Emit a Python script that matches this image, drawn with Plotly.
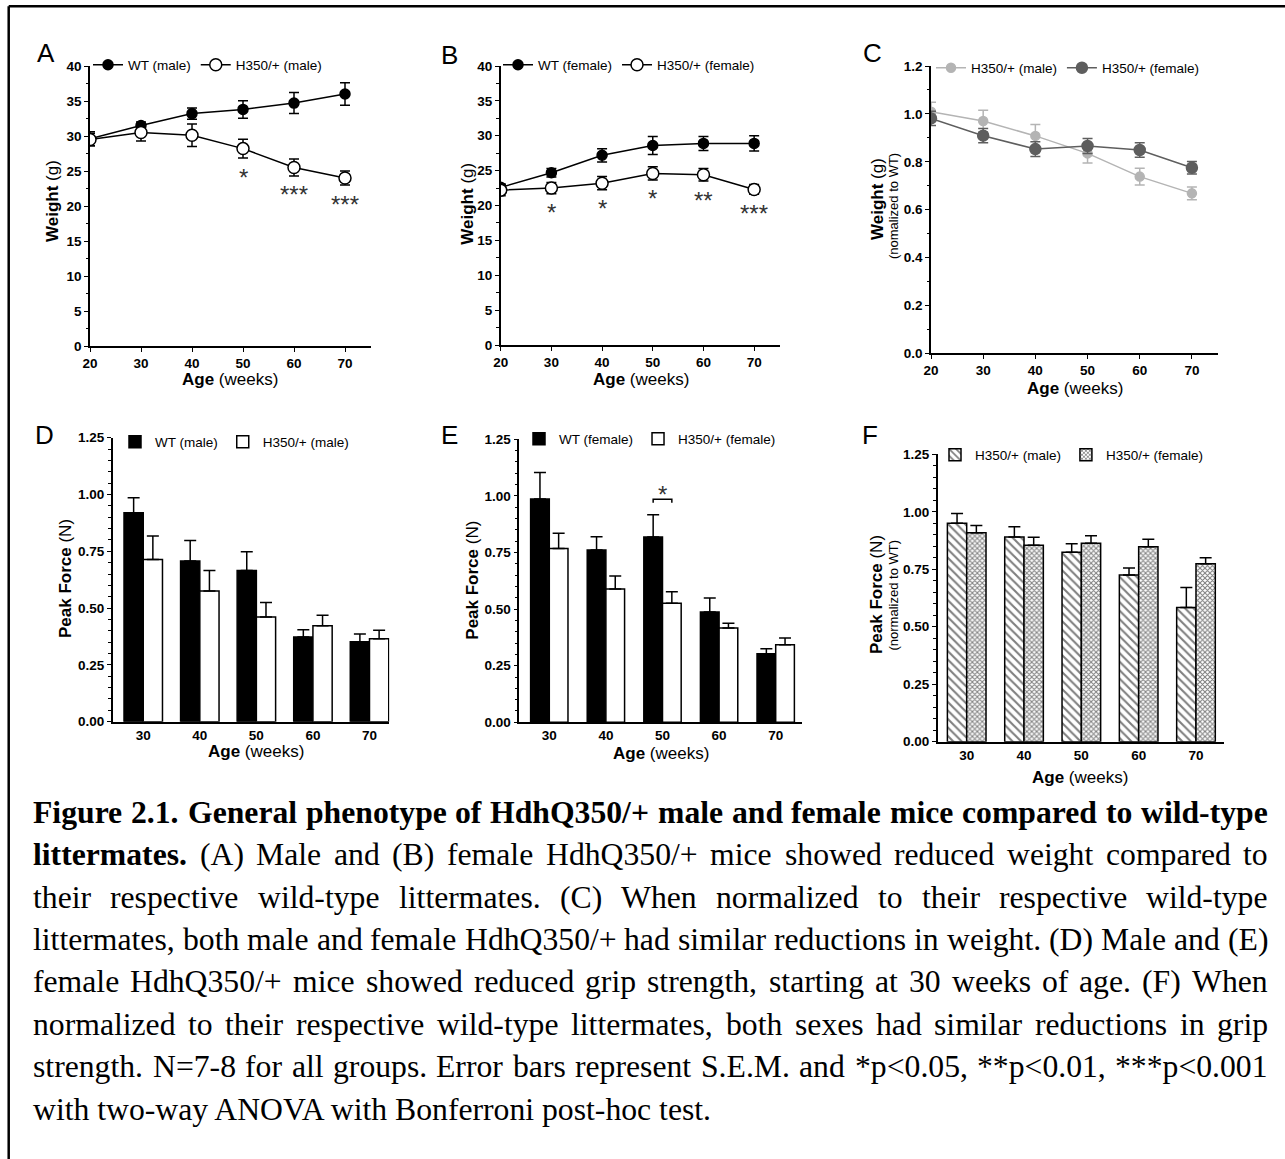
import plotly.graph_objects as go

W, H = 1285, 1159
SANS = "Liberation Sans, Arial, sans-serif"
SERIF = "Liberation Serif, Times New Roman, serif"

# ---------------- data ----------------
ages = [20, 30, 40, 50, 60, 70]
A_wt = [29.6, 31.5, 33.2, 33.8, 34.7, 36.0]
A_wt_err = [1.0, 0.5, 0.8, 1.25, 1.5, 1.6]
A_het = [29.5, 30.5, 30.1, 28.2, 25.5, 24.0]
A_het_err = [0.9, 1.2, 1.6, 1.35, 1.2, 1.0]
A_sig = ["", "", "", "*", "***", "***"]

B_wt = [22.6, 24.7, 27.2, 28.6, 28.9, 28.9]
B_wt_err = [0.5, 0.6, 0.95, 1.3, 1.0, 1.1]
B_het = [22.2, 22.5, 23.2, 24.6, 24.4, 22.3]
B_het_err = [0.8, 0.8, 0.95, 0.95, 0.9, 0.7]
B_sig = ["", "*", "*", "*", "**", "***"]

C_male = [1.009, 0.970, 0.908, 0.835, 0.738, 0.668]
C_male_err = [0.04, 0.045, 0.048, 0.04, 0.035, 0.027]
C_female = [0.981, 0.909, 0.853, 0.866, 0.849, 0.775]
C_female_err = [0.03, 0.03, 0.031, 0.031, 0.03, 0.026]

bar_ages = [30, 40, 50, 60, 70]
D_wt = [0.920, 0.707, 0.666, 0.373, 0.352]
D_wt_err = [0.066, 0.090, 0.082, 0.032, 0.034]
D_het = [0.714, 0.575, 0.461, 0.422, 0.365]
D_het_err = [0.103, 0.090, 0.064, 0.046, 0.038]

E_wt = [0.986, 0.761, 0.818, 0.487, 0.303]
E_wt_err = [0.117, 0.059, 0.099, 0.062, 0.022]
E_het = [0.768, 0.589, 0.526, 0.417, 0.343]
E_het_err = [0.067, 0.057, 0.051, 0.020, 0.029]
E_sig = ["", "", "*", "", ""]

F_male = [0.950, 0.890, 0.824, 0.725, 0.584]
F_male_err = [0.043, 0.045, 0.037, 0.030, 0.087]
F_female = [0.909, 0.854, 0.863, 0.848, 0.774]
F_female_err = [0.031, 0.035, 0.033, 0.032, 0.026]

caption_lines = [
    [("Figure 2.1. General phenotype of HdhQ350/+ male and female mice compared to wild-type", True)],
    [("littermates.", True), ("(A) Male and (B) female HdhQ350/+ mice showed reduced weight compared to", False)],
    [("their respective wild-type littermates. (C) When normalized to their respective wild-type", False)],
    [("littermates, both male and female HdhQ350/+ had similar reductions in weight. (D) Male and (E)", False)],
    [("female HdhQ350/+ mice showed reduced grip strength, starting at 30 weeks of age. (F) When", False)],
    [("normalized to their respective wild-type littermates, both sexes had similar reductions in grip", False)],
    [("strength. N=7-8 for all groups. Error bars represent S.E.M. and *p<0.05, **p<0.01, ***p<0.001", False)],
    [("with two-way ANOVA with Bonferroni post-hoc test.", False)],
]

# ---------------- helpers ----------------
def px(x):
    return x / W


def py(y):
    return 1 - y / H


fig = go.Figure()

AX_LW = 1.6
TICKFONT = dict(family=SANS, size=13.5, color="black", weight="bold")


def xaxis_cfg(dom, rng, tickvals, ticks="outside", anchor="y"):
    return dict(domain=[px(dom[0]), px(dom[1])], range=rng, anchor=anchor,
                showline=True, linecolor="black", linewidth=AX_LW,
                ticks=ticks, ticklen=4, tickwidth=1.4, tickcolor="black",
                tickvals=tickvals, tickfont=TICKFONT, showgrid=False,
                zeroline=False, fixedrange=True)


def yaxis_cfg(dom, rng, dtick, minor, fmt, anchor="x"):
    return dict(domain=[py(dom[1]), py(dom[0])], range=rng, anchor=anchor,
                showline=True, linecolor="black", linewidth=AX_LW,
                ticks="outside", ticklen=4, tickwidth=1.4, tickcolor="black",
                dtick=dtick, tick0=0, tickformat=fmt, tickfont=TICKFONT,
                showgrid=False, zeroline=False, fixedrange=True,
                minor=dict(ticks="outside", ticklen=2.5, tickwidth=1.1,
                           tickcolor="black", dtick=minor, tick0=0, showgrid=False))


layout_axes = {
    "xaxis": xaxis_cfg((90, 370.5), [20, 75], ages, anchor="y"),
    "yaxis": yaxis_cfg((66, 346), [0, 40], 5, 2.5, "d", anchor="x"),
    "xaxis2": xaxis_cfg((500.7, 779.5), [20, 75], ages, anchor="y2"),
    "yaxis2": yaxis_cfg((66, 345), [0, 40], 5, 2.5, "d", anchor="x2"),
    "xaxis3": xaxis_cfg((931, 1218), [20, 75], ages, anchor="y3"),
    "yaxis3": yaxis_cfg((66, 353.3), [0, 1.2], 0.2, 0.1, ".1f", anchor="x3"),
    "xaxis4": xaxis_cfg((112.7, 389.3), [24.6, 73.5], bar_ages, ticks="", anchor="y4"),
    "yaxis4": yaxis_cfg((437.7, 721.7), [0, 1.25], 0.25, 0.05, ".2f", anchor="x4"),
    "xaxis5": xaxis_cfg((519.3, 802.3), [24.7, 74.7], bar_ages, ticks="", anchor="y5"),
    "yaxis5": yaxis_cfg((439.3, 722.3), [0, 1.25], 0.25, 0.05, ".2f", anchor="x5"),
    "xaxis6": xaxis_cfg((937.7, 1224.3), [24.94, 74.94], bar_ages, ticks="", anchor="y6"),
    "yaxis6": yaxis_cfg((454.3, 741.7), [0, 1.25], 0.25, 0.05, ".2f", anchor="x6"),
}


def line_trace(x, y, err, name, xa, ya, legend, color, fill, size):
    return go.Scatter(
        x=x, y=y, name=name, mode="lines+markers", xaxis=xa, yaxis=ya, legend=legend,
        line=dict(color=color, width=1.5),
        marker=dict(color=fill, size=size, line=dict(color=color, width=1.5)),
        error_y=dict(type="data", array=err, color=color, thickness=1.5, width=5),
        hoverinfo="skip")


def bar_trace(x, y, err, name, xa, ya, legend, width, offset, color, pattern=None):
    marker = dict(color=color, line=dict(color="black", width=1.5))
    if pattern is not None:
        marker["pattern"] = pattern
    return go.Bar(
        x=x, y=y, name=name, xaxis=xa, yaxis=ya, legend=legend,
        width=width, offset=offset, marker=marker,
        error_y=dict(type="data", symmetric=False, array=err,
                     arrayminus=[0] * len(err), color="black", thickness=1.5, width=6),
        hoverinfo="skip")


# Panel A
fig.add_trace(line_trace(ages, A_wt, A_wt_err, "WT (male)", "x", "y", "legend", "black", "black", 10))
fig.add_trace(line_trace(ages, A_het, A_het_err, "H350/+ (male)", "x", "y", "legend", "black", "white", 12))
# Panel B
fig.add_trace(line_trace(ages, B_wt, B_wt_err, "WT (female)", "x2", "y2", "legend2", "black", "black", 10))
fig.add_trace(line_trace(ages, B_het, B_het_err, "H350/+ (female)", "x2", "y2", "legend2", "black", "white", 12))
# Panel C
fig.add_trace(line_trace(ages, C_male, C_male_err, "H350/+ (male)", "x3", "y3", "legend3", "#b4b4b4", "#b4b4b4", 9))
fig.add_trace(line_trace(ages, C_female, C_female_err, "H350/+ (female)", "x3", "y3", "legend3", "#5e5e5e", "#5e5e5e", 11))
# Panel D
fig.add_trace(bar_trace(bar_ages, D_wt, D_wt_err, "WT (male)", "x4", "y4", "legend4", 3.4, -3.4, "black"))
fig.add_trace(bar_trace(bar_ages, D_het, D_het_err, "H350/+ (male)", "x4", "y4", "legend4", 3.4, 0, "white"))
# Panel E
fig.add_trace(bar_trace(bar_ages, E_wt, E_wt_err, "WT (female)", "x5", "y5", "legend5", 3.3, -3.3, "black"))
fig.add_trace(bar_trace(bar_ages, E_het, E_het_err, "H350/+ (female)", "x5", "y5", "legend5", 3.3, 0, "white"))
# Panel F
fig.add_trace(bar_trace(bar_ages, F_male, F_male_err, "H350/+ (male)", "x6", "y6", "legend6", 3.37, -3.37, "white",
                        pattern=dict(shape="\\", fgcolor="black", bgcolor="white", size=6, solidity=0.35)))
fig.add_trace(bar_trace(bar_ages, F_female, F_female_err, "H350/+ (female)", "x6", "y6", "legend6", 3.37, 0, "white",
                        pattern=dict(shape="x", fgcolor="black", bgcolor="white", size=3.5, solidity=0.5)))


def legend_cfg(x, y):
    return dict(x=px(x), y=py(y), xanchor="left", yanchor="middle", orientation="h",
                font=dict(family=SANS, size=13.5, color="black"), bgcolor="rgba(0,0,0,0)",
                borderwidth=0, itemwidth=30, tracegroupgap=0, traceorder="normal",
                itemclick=False, itemdoubleclick=False)


legends = {
    "legend": legend_cfg(88, 65),
    "legend2": legend_cfg(498, 65),
    "legend3": legend_cfg(931, 68),
    "legend4": legend_cfg(115, 442),
    "legend5": legend_cfg(519, 439),
    "legend6": legend_cfg(935, 455),
}

annotations = []


def ann(x, y, text, size, angle=0, family=SANS, color="black", xanchor="center"):
    annotations.append(dict(x=px(x), y=py(y), xref="paper", yref="paper", text=text,
                            showarrow=False, textangle=angle, xanchor=xanchor, yanchor="middle",
                            font=dict(family=family, size=size, color=color), borderpad=0))


# panel letters
for letter, (lx, ly) in {"A": (46, 53), "B": (450, 55), "C": (872, 53),
                         "D": (44, 435), "E": (450, 435), "F": (870, 435)}.items():
    ann(lx, ly, letter, 26)

# axis titles
age_title = "<b>Age</b> (weeks)"
for (x, y) in [(230, 379), (640.5, 380), (1075, 388), (256, 751), (661, 753), (1080, 777)]:
    ann(x, y, age_title, 17)
ann(53, 201, "<b>Weight</b> (g)", 17, angle=-90)
ann(466.7, 204, "<b>Weight</b> (g)", 17, angle=-90)
ann(877, 199, "<b>Weight</b> (g)", 17, angle=-90)
ann(894, 206, "(nomalized to WT)", 13, angle=-90)
ann(65, 579, "<b>Peak Force</b> (N)", 17, angle=-90)
ann(471.7, 580, "<b>Peak Force</b> (N)", 17, angle=-90)
ann(877, 595, "<b>Peak Force</b> (N)", 17, angle=-90)
ann(893.5, 595, "(normalized to WT)", 13, angle=-90)

STAR = dict(family=SANS, size=24, color="#333333")
# significance stars (data coordinates)
for xs, ys, es, sig, xr, yr in [(ages, A_het, A_het_err, A_sig, "x", "y"),
                                (ages, B_het, B_het_err, B_sig, "x2", "y2")]:
    for xv, yv, ev, s in zip(xs, ys, es, sig):
        if s:
            annotations.append(dict(x=xv, y=yv - ev - 2.0, xref=xr, yref=yr, text=s,
                                    showarrow=False, yanchor="middle", yshift=-5, font=STAR))

shapes = []
for xv, wv, ev, s in zip(bar_ages, E_wt, E_wt_err, E_sig):
    if s:
        yb = wv + ev + 0.068
        x0, x1 = xv - 3.3 / 2, xv + 3.3 / 2
        shapes.append(dict(type="path", xref="x5", yref="y5",
                           path=f"M {x0},{yb - 0.015} L {x0},{yb} L {x1},{yb} L {x1},{yb - 0.015}",
                           line=dict(color="black", width=1.5)))
        annotations.append(dict(x=xv, y=yb + 0.045, xref="x5", yref="y5", text=s, showarrow=False,
                                yanchor="middle", yshift=-5, font=STAR))

# figure border (top and left)
shapes.append(dict(type="line", xref="paper", yref="paper", x0=px(8.7), x1=1.0, y0=py(6.2), y1=py(6.2),
                   line=dict(color="black", width=2.5)))
shapes.append(dict(type="line", xref="paper", yref="paper", x0=px(8.7), x1=px(8.7), y0=py(6.2), y1=0,
                   line=dict(color="black", width=2.5)))

# ---------------- caption (justified, Times metrics) ----------------
REG = {" ": 250, "(": 333, ")": 333, "*": 500, "+": 564, ",": 250, "-": 333, ".": 250, "/": 278,
       "<": 564, "=": 564, ":": 278,
       "A": 722, "B": 667, "C": 667, "D": 722, "E": 611, "F": 556, "G": 722, "H": 722, "I": 333,
       "J": 389, "K": 722, "L": 611, "M": 889, "N": 722, "O": 722, "P": 556, "Q": 722, "R": 667,
       "S": 556, "T": 611, "U": 722, "V": 722, "W": 944, "X": 722, "Y": 722, "Z": 611,
       "a": 444, "b": 500, "c": 444, "d": 500, "e": 444, "f": 333, "g": 500, "h": 500, "i": 278,
       "j": 278, "k": 500, "l": 278, "m": 778, "n": 500, "o": 500, "p": 500, "q": 500, "r": 333,
       "s": 389, "t": 278, "u": 500, "v": 500, "w": 722, "x": 500, "y": 500, "z": 444}
BOLD = {" ": 250, "(": 333, ")": 333, "*": 500, "+": 570, ",": 250, "-": 333, ".": 250, "/": 278,
        "A": 722, "B": 667, "C": 722, "D": 722, "E": 667, "F": 611, "G": 778, "H": 778, "I": 389,
        "M": 944, "N": 722, "O": 778, "Q": 778, "S": 556, "T": 667, "W": 1000,
        "a": 500, "b": 556, "c": 444, "d": 556, "e": 444, "f": 333, "g": 500, "h": 556, "i": 278,
        "j": 333, "k": 556, "l": 278, "m": 833, "n": 556, "o": 500, "p": 556, "q": 556, "r": 444,
        "s": 389, "t": 333, "u": 556, "v": 500, "w": 722, "x": 500, "y": 500, "z": 444}
CAP_SIZE = 31.7
CAP_LEFT, CAP_RIGHT = 32, 1267
CAP_TOP, CAP_STEP = 812.3, 42.4


def word_w(w, bold):
    tab = BOLD if bold else REG
    return sum(tab.get(c, 500) for c in w) * CAP_SIZE / 1000.0


def esc(s):
    return s.replace("&", "&amp;").replace("<", "&lt;").replace(">", "&gt;")


for li, line in enumerate(caption_lines):
    yc = CAP_TOP + li * CAP_STEP
    if li == len(caption_lines) - 1:
        # last line of a justified paragraph is left-aligned
        txt = " ".join(("<b>" + esc(s) + "</b>") if b else esc(s) for s, b in line)
        ann(CAP_LEFT, yc, txt, CAP_SIZE, family=SERIF, xanchor="left")
        continue
    words = [(w, b) for seg, b in line for w in seg.split()]
    widths = [word_w(w, b) for w, b in words]
    gap = (CAP_RIGHT - CAP_LEFT - sum(widths)) / (len(words) - 1)
    xcur = CAP_LEFT
    for (w, b), wd in zip(words, widths):
        t = esc(w)
        if b:
            t = "<b>" + t + "</b>"
        ann(xcur, yc, t, CAP_SIZE, family=SERIF, xanchor="left")
        xcur += wd + gap

fig.update_layout(
    width=W, height=H, margin=dict(l=0, r=0, t=0, b=0, autoexpand=False),
    paper_bgcolor="white", plot_bgcolor="white", barmode="overlay",
    font=dict(family=SANS, color="black"), showlegend=True,
    annotations=annotations, shapes=shapes, **layout_axes, **legends)

fig.write_html("out.html")
